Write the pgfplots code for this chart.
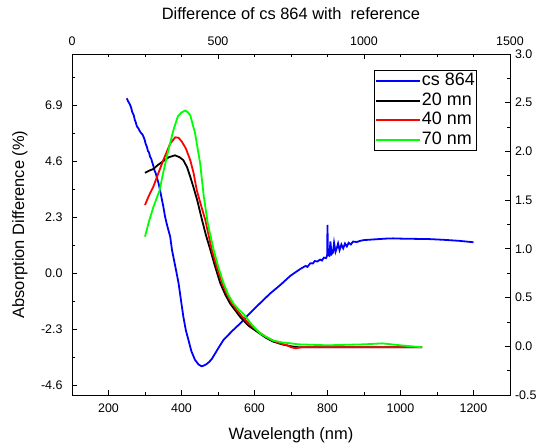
\documentclass[border=0pt]{standalone}
\usepackage{pgfplots}
\pgfplotsset{compat=1.18}
\usepackage{fontspec}
\setmainfont{Liberation Sans}

\pgfplotstableread{
x y
250 7.18
254 7.05
258 6.95
262 6.80
265 6.62
269 6.50
272 6.30
275 6.18
278 6.02
282 5.95
285 5.85
290 5.74
293 5.70
296 5.60
299 5.48
302 5.30
305 5.20
308 5.02
311 4.96
314 4.78
317 4.70
320 4.55
323 4.40
326 4.22
329 4.12
332 3.96
337 3.70
341 3.42
346 3.05
350 2.75
355 2.32
360 2.00
365 1.72
369 1.50
374 0.95
380 0.50
386 0.05
392 -0.41
398 -1.05
405 -1.78
412 -2.35
419 -2.74
427 -3.20
437 -3.56
447 -3.75
455 -3.82
460 -3.80
468 -3.74
476 -3.64
483 -3.52
492 -3.30
502 -3.05
515 -2.74
539 -2.37
561 -2.06
588 -1.63
616 -1.22
643 -0.83
671 -0.48
698 -0.11
725 0.17
740 0.30
745 0.26
753 0.41
760 0.40
765 0.50
772 0.48
780 0.56
785 0.52
790 0.64
796 0.62
799 0.72
800 1.98
801 0.75
805 0.72
808 1.30
811 0.78
815 0.85
818 1.25
822 0.88
826 1.05
829 1.22
833 0.95
838 1.18
843 1.02
848 1.22
853 1.10
858 1.25
864 1.18
870 1.30
880 1.28
890 1.33
900 1.36
920 1.38
940 1.40
960 1.42
980 1.43
1000 1.42
1040 1.41
1080 1.40
1120 1.37
1160 1.33
1200 1.27
}\cs

\pgfplotstableread{
x y
300 1.78
310 1.80
323 1.82
335 1.86
350 1.90
365 1.94
382 1.96
395 1.94
405 1.91
415 1.84
424 1.74
433 1.63
443 1.50
456 1.30
467 1.14
479 0.99
492 0.82
506 0.65
520 0.53
533 0.44
547 0.37
561 0.30
584 0.21
607 0.15
630 0.09
650 0.05
675 0.02
700 0.00
720 -0.01
800 -0.01
900 -0.01
1000 -0.01
1059 -0.01
}\twenty

\pgfplotstableread{
x y
300 1.45
310 1.54
323 1.64
337 1.78
350 1.91
369 2.08
383 2.145
392 2.14
401 2.10
412 2.03
424 1.91
433 1.78
442 1.60
454 1.44
465 1.30
483 0.99
497 0.81
511 0.65
525 0.53
538 0.44
552 0.37
565 0.31
588 0.22
610 0.15
630 0.10
650 0.06
670 0.03
690 0.01
700 -0.01
712 -0.02
730 -0.01
800 -0.01
900 -0.01
1000 -0.01
1059 -0.01
}\forty

\pgfplotstableread{
x y
300 1.125
310 1.27
323 1.43
333 1.53
340 1.60
348 1.75
360 1.95
378 2.22
390 2.36
400 2.40
410 2.42
418 2.40
424 2.37
437 2.19
451 1.88
461 1.54
472 1.26
488 0.99
502 0.80
515 0.65
528 0.53
542 0.44
556 0.38
570 0.33
593 0.22
616 0.13
635 0.09
650 0.06
675 0.04
700 0.03
720 0.02
800 0.01
900 0.02
950 0.03
1000 0.01
1059 -0.01
}\seventy

\begin{document}
\begin{tikzpicture}
\useasboundingbox (-72bp,-53bp) rectangle (468bp,395bp);
\pgfplotsset{
 every axis/.append style={
  width=438bp, height=341bp, scale only axis,
  at={(0,0)}, anchor=south west,
  xmin=100, xmax=1300,
  tick align=inside,
  major tick length=5bp, minor tick length=3bp,
  axis line style={line width=0.9pt},
  every tick/.style={black, line width=0.8pt},
  tick label style={font=\fontsize{12.5}{14}\selectfont},
  /pgf/number format/assume math mode=true,
  /pgf/number format/1000 sep={},
 }
}
\begin{axis}[
 ymin=-5, ymax=9,
 xtick={200,400,600,800,1000,1200},
 minor xtick={300,500,700,900,1100},
 ytick={-4.6,-2.3,0,2.3,4.6,6.9},
 minor ytick={-3.45,-1.15,1.15,3.45,5.75,8.05},
 xtick pos=bottom, ytick pos=left,
 xticklabel style={yshift=-5bp},
 yticklabel style={xshift=-6bp, /pgf/number format/.cd, fixed, fixed zerofill, precision=1},
 xlabel={Wavelength (nm)},
 ylabel={Absorption Difference (\%)},
 every axis x label/.style={at={([yshift=-40bp]axis description cs:0.5,0)}, anchor=center},
 every axis y label/.style={at={([xshift=-52bp]axis description cs:0,0.5)}, anchor=center, rotate=90},
 label style={font=\fontsize{16.5}{19}\selectfont},
 title={Difference of cs 864 with\ \ reference},
 every axis title/.style={at={([yshift=40bp]axis description cs:0.5,1)}, anchor=center, font=\fontsize{16.5}{19}\selectfont},
]
\addplot[blue, line width=1.8pt] table[x=x,y=y] {\cs};
\end{axis}

\begin{axis}[
 ymin=-0.5, ymax=3,
 xtick=\empty,
 ytick pos=right, yticklabel pos=right,
 ytick={-0.5,0,0.5,1,1.5,2,2.5,3},
 minor ytick={-0.25,0.25,0.75,1.25,1.75,2.25,2.75},
 yticklabel style={xshift=1.5bp, /pgf/number format/.cd, fixed, fixed zerofill, precision=1},
 legend style={at={(axis description cs:0.925,0.953)}, anchor=north east, draw=black, line width=0.7pt,
   font=\fontsize{18}{20}\selectfont, row sep=0pt, inner xsep=1bp, inner ysep=1bp,
   nodes={inner xsep=1bp, inner ysep=1.5bp, text height=13bp, text depth=3.5bp}},
 legend cell align=left,
 legend image code/.code={\path (0bp,0bp) -- (7bp,0bp); \draw[#1] (7bp,0bp) -- (44bp,0bp);},
]
\addlegendimage{blue, line width=1.8pt}
\addlegendentry{cs 864}
\addplot[black, line width=1.8pt] table[x=x,y=y] {\twenty};
\addlegendentry{20 mn}
\addplot[red, line width=1.8pt] table[x=x,y=y] {\forty};
\addlegendentry{40 nm}
\addplot[green, line width=1.8pt] table[x=x,y=y] {\seventy};
\addlegendentry{70 nm}
\end{axis}

\begin{axis}[
 xmin=0, xmax=1500, ymin=0, ymax=1,
 ytick=\empty,
 xtick pos=right, xticklabel pos=right,
 xtick={0,500,1000,1500},
 minor xtick={125,250,375,625,750,875,1125,1250,1375},
 xticklabel style={yshift=5bp},
]
\addplot[draw=none, forget plot] coordinates {(0,0)};
\end{axis}
\end{tikzpicture}
\end{document}
